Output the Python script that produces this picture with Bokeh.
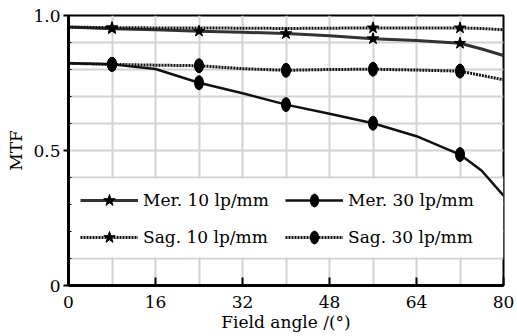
from bokeh.plotting import figure
from bokeh.models import FixedTicker, Legend, LegendItem, BoxAnnotation
from bokeh.embed import file_html
from bokeh.resources import INLINE

# ---- data ----
x_curve = [0, 8, 16, 24, 32, 40, 48, 56, 64, 72, 76, 80]
mer10 = [0.957, 0.951, 0.947, 0.942, 0.938, 0.933, 0.925, 0.914, 0.907, 0.897, 0.876, 0.852]
sag10 = [0.957, 0.955, 0.954, 0.954, 0.953, 0.952, 0.953, 0.954, 0.954, 0.954, 0.952, 0.947]
mer30 = [0.823, 0.819, 0.802, 0.751, 0.712, 0.670, 0.636, 0.601, 0.553, 0.485, 0.425, 0.333]
sag30 = [0.823, 0.819, 0.816, 0.814, 0.803, 0.797, 0.800, 0.801, 0.798, 0.794, 0.778, 0.762]

x_marks = [8, 24, 40, 56, 72]
mer10_marks = [0.951, 0.942, 0.933, 0.914, 0.897]
mer30_marks = [0.819, 0.751, 0.670, 0.601, 0.485]
sag30_marks = [0.819, 0.814, 0.797, 0.801, 0.794]
x_sag10_marks = [8, 56, 72]
sag10_marks = [0.955, 0.954, 0.954]

labels = ["Mer. 10 lp/mm", "Sag. 10 lp/mm", "Mer. 30 lp/mm", "Sag. 30 lp/mm"]
x_ticks = [0, 16, 32, 48, 64, 80]
y_ticks = [0, 0.5, 1.0]
y_tick_labels = {0: "0", 0.5: "0.5", 1.0: "1.0"}

FONT = "DejaVu Serif"

p = figure(width=517, height=336, x_range=(0, 80), y_range=(0, 1.0),
           output_backend="svg", toolbar_location=None,
           min_border_left=68, min_border_right=14, min_border_top=15, min_border_bottom=51)

p.background_fill_color = "white"
p.border_fill_color = "white"
p.outline_line_color = "black"
p.outline_line_width = 2

# grids
p.xgrid.ticker = FixedTicker(ticks=[8, 16, 24, 32, 40, 48, 56, 64, 72])
p.ygrid.ticker = FixedTicker(ticks=[0.1, 0.2, 0.3, 0.4, 0.5, 0.6, 0.7, 0.8, 0.9])
for g in (p.xgrid, p.ygrid):
    g.grid_line_color = "#d2d2d2"
    g.grid_line_width = 2

# white legend backdrop covering the grid
box = BoxAnnotation(bottom=0.104, top=0.396, fill_color="white", fill_alpha=1.0,
                    line_alpha=0, level="underlay")
p.add_layout(box)

# axes
p.xaxis.ticker = FixedTicker(ticks=x_ticks)
p.yaxis.ticker = FixedTicker(ticks=y_ticks, minor_ticks=[0.1, 0.2, 0.3, 0.4, 0.6, 0.7, 0.8, 0.9])
p.yaxis.major_label_overrides = y_tick_labels
for ax in (p.xaxis, p.yaxis):
    ax.axis_line_width = 3
    ax.axis_line_color = "black"
    ax.major_tick_line_color = "black"
    ax.major_tick_line_width = 2
    ax.major_label_text_font = FONT
    ax.major_label_text_font_size = "17px"
    ax.major_label_text_color = "black"
    ax.axis_label_text_font = FONT
    ax.axis_label_text_font_size = "17px"
    ax.axis_label_text_font_style = "normal"
    ax.axis_label_text_color = "black"
p.xaxis.major_tick_in = 8
p.xaxis.major_tick_out = 0
p.xaxis.minor_tick_line_color = None
p.yaxis.major_tick_in = 0
p.yaxis.major_tick_out = 5
p.yaxis.minor_tick_in = 3
p.yaxis.minor_tick_out = 0
p.yaxis.minor_tick_line_color = "black"
p.yaxis.minor_tick_line_width = 1
p.xaxis.major_label_standoff = 10
p.yaxis.major_label_standoff = 3
p.xaxis.axis_label = "Field angle /(\u00b0)"
p.yaxis.axis_label = "MTF"
p.xaxis.axis_label_standoff = 1
p.yaxis.axis_label_standoff = 4

# curves
l_m10 = p.line(x_curve, mer10, line_color="#333333", line_width=3)
l_s10 = p.line(x_curve, sag10, line_color="#111111", line_width=3, line_dash="2 1")
l_m30 = p.line(x_curve, mer30, line_color="#111111", line_width=2.5)
l_s30 = p.line(x_curve, sag30, line_color="#111111", line_width=3, line_dash="2 1")

# markers
s_m10 = p.scatter(x_marks, mer10_marks, marker="star", size=12, fill_color="black", line_color="black")
s_s10 = p.scatter(x_sag10_marks, sag10_marks, marker="star", size=12, fill_color="black", line_color="black")
e_m30 = p.ellipse(x_marks, mer30_marks, width=9, height=14, width_units="screen", height_units="screen",
                  fill_color="black", line_color="black")
e_s30 = p.ellipse(x_marks, sag30_marks, width=9, height=14, width_units="screen", height_units="screen",
                  fill_color="black", line_color="black")


def style_legend(lg):
    lg.background_fill_alpha = 0
    lg.border_line_alpha = 0
    lg.margin = 0
    lg.padding = 0
    lg.glyph_width = 58
    lg.label_standoff = 5
    lg.label_text_font = FONT
    lg.label_text_font_size = "17px"
    lg.label_text_color = "black"


legend10 = Legend(items=[
    LegendItem(label=labels[0], renderers=[l_m10, s_m10]),
    LegendItem(label=labels[1], renderers=[l_s10, s_s10]),
], location=(12, 33))
style_legend(legend10)
legend10.glyph_height = 30
legend10.label_height = 30
legend10.spacing = 7

legend30 = Legend(items=[
    LegendItem(label=labels[2], renderers=[l_m30, e_m30]),
    LegendItem(label=labels[3], renderers=[l_s30, e_s30]),
], location=(217, 38))
style_legend(legend30)
legend30.glyph_height = 16
legend30.label_height = 20
legend30.spacing = 17

p.add_layout(legend10)
p.add_layout(legend30)

open("out.html", "w").write(file_html(p, INLINE))
